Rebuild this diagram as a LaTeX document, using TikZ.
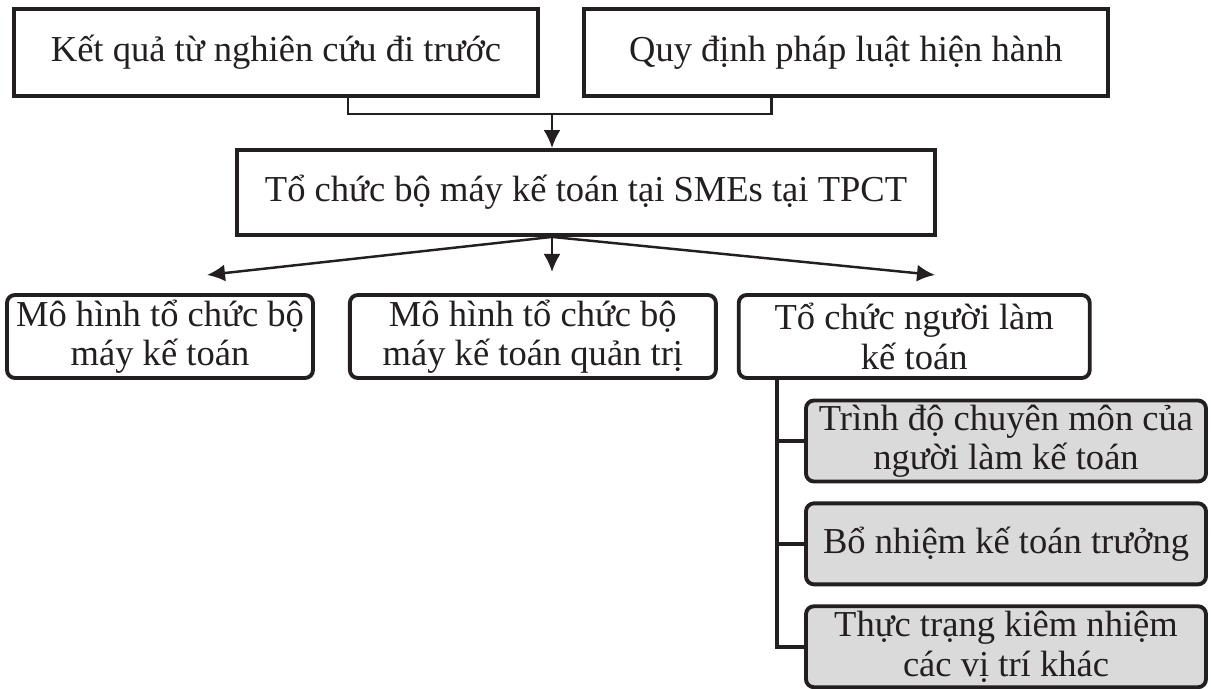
\documentclass[tikz,border=0pt]{standalone}
\usepackage{fontspec}
\setmainfont{Liberation Serif}
\usepackage{tikz}
\usetikzlibrary{arrows.meta,positioning}
\definecolor{ink}{RGB}{35,31,32}
\definecolor{c1}{RGB}{218,218,218}
\tikzset{box/.style={draw=ink,text=ink,line width=2.2pt,align=center,font=\fontsize{20.8}{22.5}\selectfont,inner sep=2pt,minimum height=1.74cm,minimum width=#1},
  box/.default=10.48cm,
  rbox/.style={box=#1,rounded corners=0.16cm,minimum height=1.66cm},
  rbox/.default=7cm,
  sub/.style={rbox=8cm,fill=c1,minimum height=1.62cm},
  link/.style={draw=ink,line width=1.6pt},
  tree/.style={draw=ink,line width=2.2pt},
  arr/.style={-{Latex[length=0.36cm,width=0.34cm]},draw=ink,line width=1.4pt}}

\begin{document}
\begin{tikzpicture}
\useasboundingbox (0,0) rectangle (24.22,-13.78);
\node[box] (k1) at (5.52,-1.05) {Kết quả từ nghiên cứu đi trước};
\node[box,right=0.84cm of k1] (k2) {Quy định pháp luật hiện hành};
\node[box=13.96cm,minimum height=1.70cm] (m) at (11.72,-3.85) {Tổ chức bộ máy kế toán tại SMEs tại TPCT};
\node[rbox=6.12cm] (a) at (3.20,-6.73) {Mô hình tổ chức bộ\\ máy kế toán};
\node[rbox=7.32cm,right=0.66cm of a] (b) {Mô hình tổ chức bộ\\ máy kế toán quản trị};
\node[rbox=7.02cm,right=0.38cm of b] (c) {Tổ chức người làm\\ kế toán};
\node[sub] (g1) at (20.12,-8.82) {Trình độ chuyên môn của\\ người làm kế toán};
\node[sub,below=0.36cm of g1] (g2) {Bổ nhiệm kế toán trưởng};
\node[sub,below=0.36cm of g2] (g3) {Thực trạng kiêm nhiệm\\ các vị trí khác};
% joins and arrow ends
\coordinate (j) at (11.04,-2.28);
\coordinate (ta) at (4.14,-5.50);
\coordinate (tb) at (11.04,-5.44);
\coordinate (tc) at (18.70,-5.50);
\coordinate (t) at (15.54,0);
\draw[link] ([xshift=1.44cm]k1.south) |- (j) -| ([xshift=-1.48cm]k2.south);
\draw[arr] (j) -- (j |- m.north);
\foreach \e in {ta,tb,tc} \draw[arr] (m.south -| j) -- (\e);
\draw[tree] (c.south -| t) |- (g3.west);
\draw[tree] (t |- g1.west) -- (g1.west);
\draw[tree] (t |- g2.west) -- (g2.west);
\end{tikzpicture}
\end{document}
